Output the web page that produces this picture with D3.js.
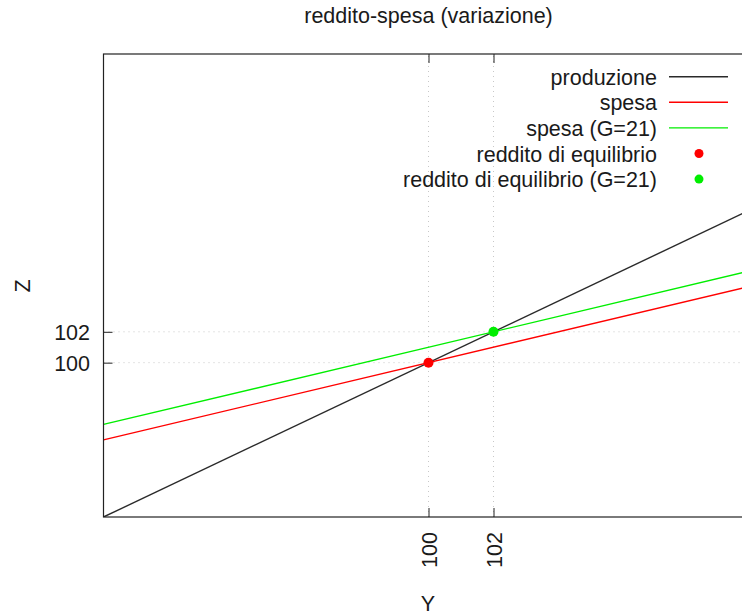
<!DOCTYPE html>
<html>
<head>
<meta charset="utf-8">
<script src="https://cdn.jsdelivr.net/npm/d3@7"></script>
<style>
  body { margin: 0; background: #fff; }
  text { font-family: "Liberation Sans", Arial, sans-serif; fill: #1a1a1a; font-size: 21.5px; }
</style>
</head>
<body>
<div id="container"></div>
<script>
// axis ranges and ticks
var xRange = [90, 110];
var yRange = [90, 120];
var xTicks = [100, 102];
var yTicks = [100, 102];

// line end points (Y at both ends, Z at both ends)
var lineY = [90, 110];
var produzione = [90, 110];
var spesa = [95, 105];
var spesaG = [96, 106];

// equilibrium points
var eqY = [100, 102];
var eqZ = [100, 102];

var seriesNames = ["produzione", "spesa", "spesa (G=21)", "reddito di equilibrio", "reddito di equilibrio (G=21)"];
var seriesColors = ["#2a2a2a", "#ff0000", "#00ee00", "#ff0000", "#00ee00"];

// plot box (right border runs past the window)
var margin = {top: 54, left: 103.5};
var width = 650, height = 463;

var svg = d3.select("#container").append("svg")
  .attr("width", 742).attr("height", 615);

var x = d3.scaleLinear().domain(xRange).range([margin.left, margin.left + width]);
var y = d3.scaleLinear().domain(yRange).range([margin.top + height, margin.top]);

// clip for the plot
svg.append("clipPath").attr("id", "clip")
  .append("rect").attr("x", x(xRange[0])).attr("y", y(yRange[1]))
  .attr("width", width).attr("height", height);

// grid
var grid = svg.append("g").attr("stroke", "#c8c8c8").attr("stroke-width", 1).attr("stroke-dasharray", "1,4");
grid.selectAll(".gx").data(xTicks).enter().append("line")
  .attr("x1", function(d) { return x(d); }).attr("x2", function(d) { return x(d); })
  .attr("y1", y(yRange[0])).attr("y2", y(yRange[1]));
grid.selectAll(".gy").data(yTicks).enter().append("line")
  .attr("y1", function(d) { return y(d); }).attr("y2", function(d) { return y(d); })
  .attr("x1", x(xRange[0])).attr("x2", x(xRange[1]));

// lines
var plot = svg.append("g").attr("clip-path", "url(#clip)");
var lineData = [produzione, spesa, spesaG];
var line = d3.line().x(function(d) { return x(d[0]); }).y(function(d) { return y(d[1]); });
lineData.forEach(function(vals, i) {
  plot.append("path")
    .datum(lineY.map(function(v, j) { return [v, vals[j]]; }))
    .attr("d", line)
    .attr("fill", "none")
    .attr("stroke", seriesColors[i])
    .attr("stroke-width", 1.4);
});

// equilibrium points
plot.selectAll(".eq").data(eqY).enter().append("circle")
  .attr("cx", function(d) { return x(d); })
  .attr("cy", function(d, i) { return y(eqZ[i]); })
  .attr("r", 5)
  .attr("fill", function(d, i) { return seriesColors[3 + i]; });

// axes (ticks inward, mirrored)
var axBottom = svg.append("g").attr("transform", "translate(0," + y(yRange[0]) + ")")
  .call(d3.axisBottom(x).tickValues(xTicks).tickSize(-9).tickFormat(""));
var axTop = svg.append("g").attr("transform", "translate(0," + y(yRange[1]) + ")")
  .call(d3.axisTop(x).tickValues(xTicks).tickSize(-9).tickFormat(""));
var axLeft = svg.append("g").attr("transform", "translate(" + x(xRange[0]) + ",0)")
  .call(d3.axisLeft(y).tickValues(yTicks).tickSize(-9).tickFormat(""));
[axBottom, axTop, axLeft].forEach(function(g) {
  g.select(".domain").remove();
  g.selectAll(".tick line").attr("stroke", "#222").attr("stroke-width", 1);
});

// border
svg.append("rect")
  .attr("x", x(xRange[0])).attr("y", y(yRange[1]))
  .attr("width", width).attr("height", height)
  .attr("fill", "none").attr("stroke", "#222").attr("stroke-width", 1.2);

// tick labels
svg.selectAll(".xl").data(xTicks).enter().append("text")
  .attr("transform", function(d) { return "translate(" + (x(d) + 8) + "," + (y(yRange[0]) + 15) + ") rotate(-90)"; })
  .attr("text-anchor", "end")
  .text(function(d) { return d; });
svg.selectAll(".yl").data(yTicks).enter().append("text")
  .attr("x", 90).attr("y", function(d) { return y(d) + 8; })
  .attr("text-anchor", "end")
  .text(function(d) { return d; });

// axis labels and title
svg.append("text").attr("x", 428).attr("y", 611).attr("text-anchor", "middle").text("Y");
svg.append("text").attr("transform", "translate(30,286) rotate(-90)").attr("text-anchor", "middle").text("Z");
svg.append("text").attr("x", 428.5).attr("y", 23).attr("text-anchor", "middle").text("reddito-spesa (variazione)");

// legend
var legend = svg.append("g");
seriesNames.forEach(function(name, i) {
  var ly = 76.7 + i * 25.6;
  legend.append("text").attr("x", 657).attr("y", ly + 8).attr("text-anchor", "end").text(name);
  if (i < 3) {
    legend.append("line").attr("x1", 669).attr("x2", 728).attr("y1", ly).attr("y2", ly)
      .attr("stroke", seriesColors[i]).attr("stroke-width", 1.4);
  } else {
    legend.append("circle").attr("cx", 699).attr("cy", ly).attr("r", 4.5)
      .attr("fill", seriesColors[i]);
  }
});
</script>
</body>
</html>
